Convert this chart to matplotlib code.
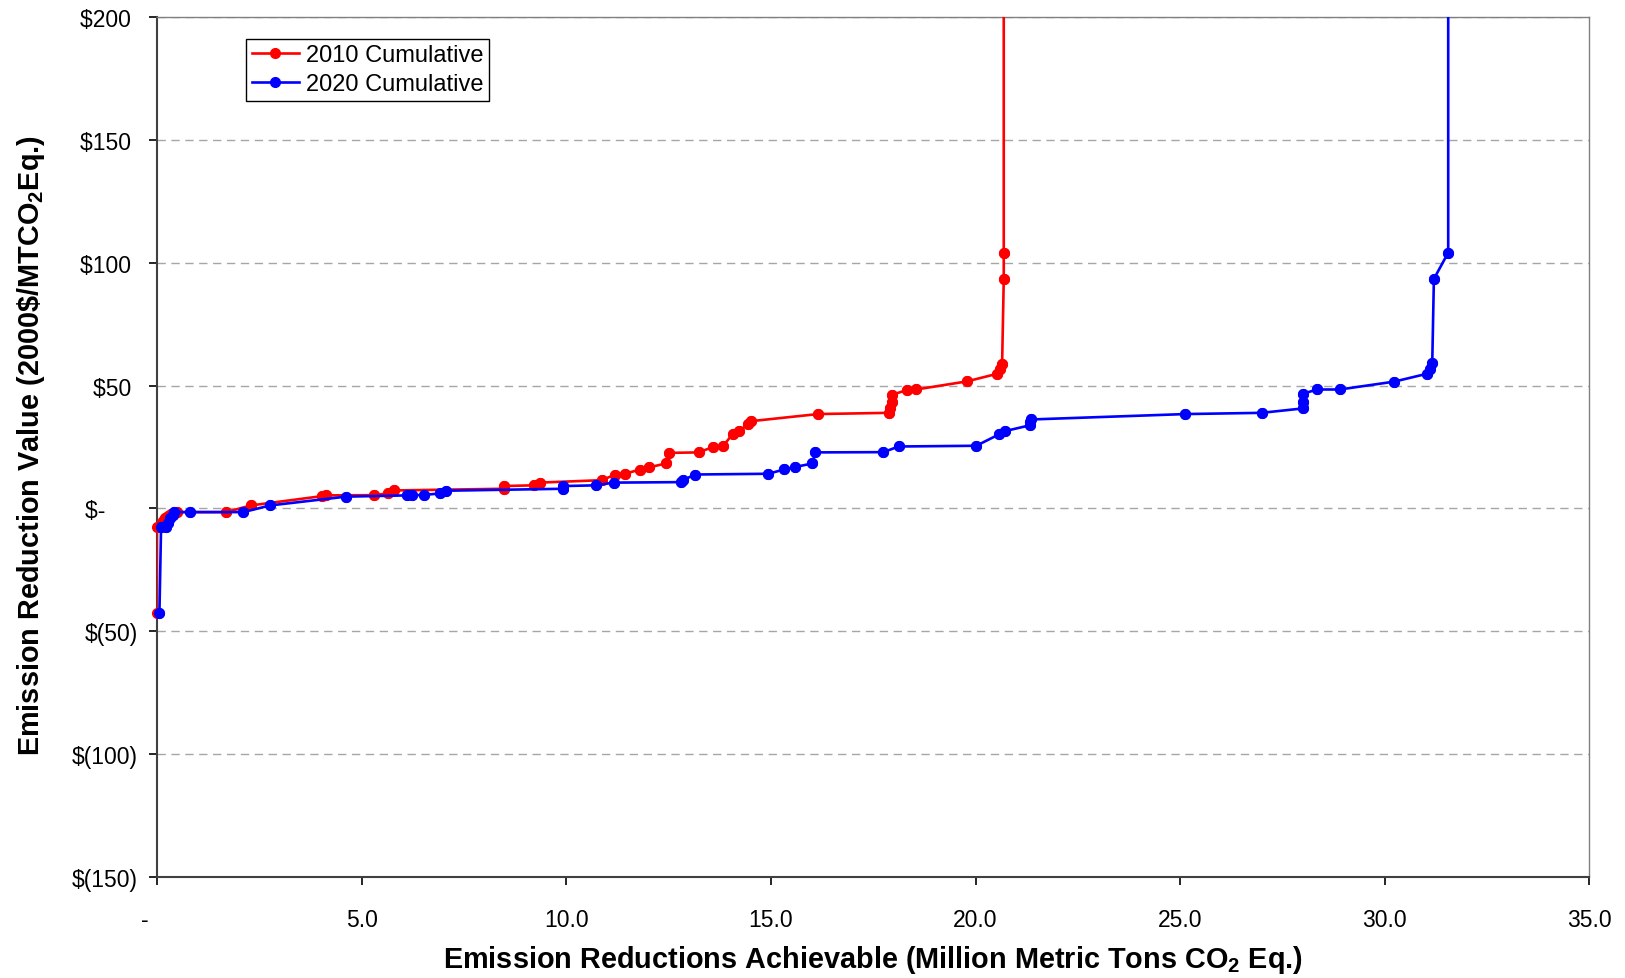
# Кривая предельных затрат на сокращение выбросов (2010 и 2020)
import matplotlib
matplotlib.use('Agg')
import matplotlib.pyplot as plt
from matplotlib.transforms import ScaledTranslation

# Шрифт как в Excel (Arial -> Liberation Sans)
plt.rcParams['font.family'] = ['Liberation Sans', 'DejaVu Sans']
plt.rcParams['mathtext.fontset'] = 'custom'
plt.rcParams['mathtext.rm'] = 'Liberation Sans'
plt.rcParams['mathtext.bf'] = 'Liberation Sans:bold'

# Данные
x_2010 = [0.0, 0.0, 0.1, 0.15, 0.2, 0.28, 0.35, 0.48, 1.69, 2.29, 4.03, 4.13,
          5.31, 5.65, 5.78, 8.47, 8.47, 9.2, 9.35, 10.87, 11.2, 11.44, 11.79,
          12.03, 12.43, 12.5, 13.24, 13.58, 13.84, 14.07, 14.21, 14.45, 14.51,
          16.15, 17.88, 17.92, 17.96, 17.96, 18.32, 18.55, 19.79, 20.53, 20.6,
          20.65, 20.69, 20.69, 20.69]
y_2010 = [-42.5, -7.5, -6.5, -5.0, -4.0, -3.0, -2.2, -1.5, -1.5, 1.2, 5.0, 5.3,
          5.4, 6.1, 7.3, 8.0, 9.1, 9.4, 10.5, 11.5, 13.8, 14.1, 15.8,
          16.7, 18.3, 22.6, 22.8, 25.0, 25.5, 30.4, 31.5, 34.2, 35.5,
          38.4, 38.9, 41.0, 43.5, 46.2, 48.2, 48.4, 51.7, 54.8, 56.6,
          58.8, 93.2, 104.1, 400.0]

x_2020 = [0.06, 0.1, 0.22, 0.28, 0.33, 0.38, 0.42, 0.81, 2.11, 2.76, 4.62,
          6.1, 6.22, 6.53, 6.92, 7.05, 9.93, 9.93, 10.73, 11.16, 12.81, 12.85,
          13.15, 14.94, 15.33, 15.58, 16.01, 16.09, 17.75, 18.12, 20.02, 20.57,
          20.73, 21.32, 21.34, 21.36, 25.13, 26.99, 28.0, 28.0, 28.0, 28.35,
          28.9, 30.23, 31.03, 31.1, 31.16, 31.2, 31.55, 31.55]
y_2020 = [-42.5, -7.5, -7.5, -6.0, -4.0, -2.5, -1.5, -1.5, -1.5, 1.2, 4.8,
          5.3, 5.3, 5.5, 6.1, 7.2, 8.0, 9.1, 9.4, 10.5, 10.7, 11.5,
          13.8, 14.1, 15.9, 16.8, 18.3, 22.8, 22.9, 25.2, 25.5, 30.1,
          31.5, 33.8, 35.1, 36.2, 38.4, 38.9, 40.7, 43.3, 46.7, 48.4,
          48.4, 51.6, 54.8, 56.6, 59.3, 93.4, 104.1, 400.0]

# Подписи осей (бухгалтерский формат Excel)
y_ticks = [200, 150, 100, 50, 0, -50, -100, -150]
y_tick_labels = [r'\$200 ', r'\$150 ', r'\$100 ', r'\$50 ', r'\$-     ',
                 r'\$(50)', r'\$(100)', r'\$(150)']
x_ticks = [0, 5, 10, 15, 20, 25, 30, 35]
x_tick_labels = ['-', '5.0', '10.0', '15.0', '20.0', '25.0', '30.0', '35.0']

Y_MAX = 200

fig = plt.figure(figsize=(16.25, 9.79), dpi=100)
ax = fig.add_axes([0.0966, 0.1032, 0.8815, 0.8784])

# Линии (обрезаются рамкой) и маркеры (как в Excel, не обрезаются)
for xs, ys, col, lab in [(x_2010, y_2010, '#ff0000', '2010 Cumulative'),
                         (x_2020, y_2020, '#0000ff', '2020 Cumulative')]:
    ax.plot(xs, ys, color=col, linewidth=1.9, marker='o', markersize=7,
            label=lab, zorder=3)
    mx = [x for x, y in zip(xs, ys) if y <= Y_MAX]
    my = [y for y in ys if y <= Y_MAX]
    ax.plot(mx, my, linestyle='none', marker='o', markersize=7, color=col,
            clip_on=False, zorder=3)

# Пределы и сетка
ax.set_xlim(0, 35)
ax.set_ylim(-150, Y_MAX)
ax.set_yticks(y_ticks)
ax.set_yticklabels(y_tick_labels)
ax.set_xticks(x_ticks)
ax.set_xticklabels(x_tick_labels)
ax.yaxis.grid(True, color='#a6a6a6', linestyle=(0, (6, 4)), linewidth=1.0)
ax.set_axisbelow(True)

ax.tick_params(axis='y', direction='out', length=6, width=1.2, pad=8,
               labelsize=16.5, colors='black')
ax.tick_params(axis='x', direction='out', length=6, width=1.2, pad=16,
               labelsize=16.5, colors='black')

# сдвигаем "-" у нуля влево, как в Excel
lbl0 = ax.get_xticklabels()[0]
lbl0.set_transform(lbl0.get_transform() + ScaledTranslation(-0.12, 0, fig.dpi_scale_trans))

# Рамка
for s in ['left', 'bottom']:
    ax.spines[s].set_color('#404040')
    ax.spines[s].set_linewidth(1.5)
for s in ['top', 'right']:
    ax.spines[s].set_color('#808080')
    ax.spines[s].set_linewidth(1.0)

# Названия осей
ax.set_xlabel(r'Emission Reductions Achievable (Million Metric Tons CO$_\mathbf{2}$ Eq.)',
              fontsize=20.8, fontweight='bold')
ax.set_ylabel(r'Emission Reduction Value (2000\$/MTCO$_\mathbf{2}$Eq.)',
              fontsize=20.8, fontweight='bold')
ax.xaxis.set_label_coords(0.5, -0.077)
ax.yaxis.set_label_coords(-0.077, 0.503)

# Легенда
leg = ax.legend(loc='upper left', bbox_to_anchor=(0.062, 0.975), borderaxespad=0,
                fontsize=17, fancybox=False, framealpha=1, edgecolor='black',
                handlelength=2.0, handletextpad=0.3, borderpad=0.25,
                labelspacing=0.3)
leg.get_frame().set_linewidth(1.0)

fig.savefig('out.png', dpi=100)
